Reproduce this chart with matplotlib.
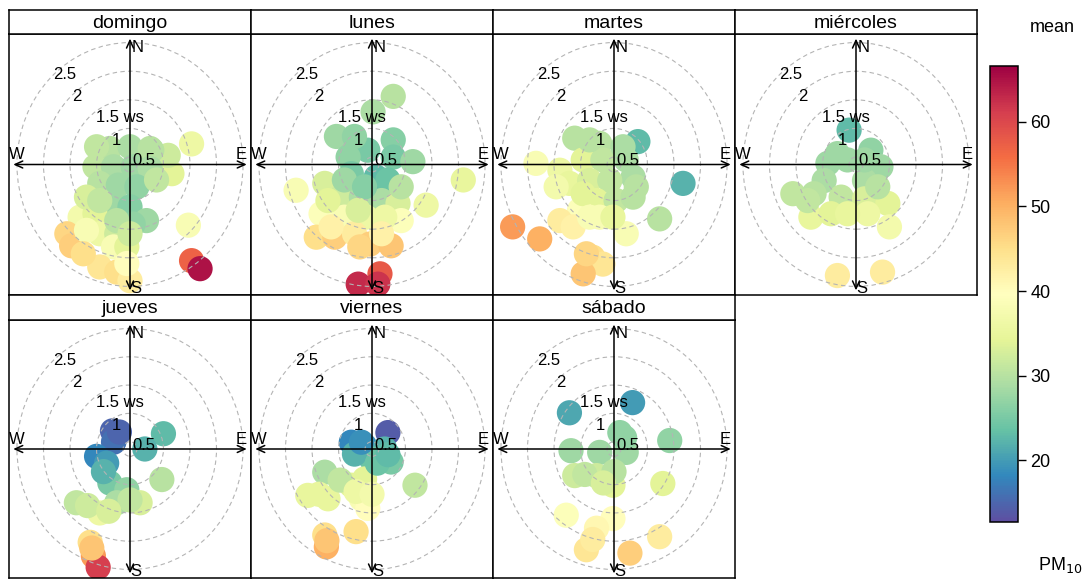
from matplotlib import pyplot as plt
from matplotlib.patches import Circle
import matplotlib as mpl

plt.rcParams['font.family'] = ['Liberation Sans', 'DejaVu Sans']

days = ["domingo", "lunes", "martes", "miércoles", "jueves", "viernes", "sábado"]

# Blob centres in plotted polar coordinates (u east, v north) and mean PM10
domingo_u = [1.16, 0.79, 0.72, 0.41, -0.38, 0.00, 0.38, -0.66, -0.31, 0.06, 0.38,
             -0.57, -0.22, 0.13, -0.31, 0.00, 0.31, 0.06, -0.94, -0.66, -0.57, -0.25,
             -0.31, -0.06, -1.19, -1.10, -0.57, -0.25, 0.00, 1.10, 1.16, 1.32,
             -0.63, 0.50, -0.82, -0.57, -0.25, -0.82, 0.00, -0.88, -0.06]
domingo_v = [0.36, -0.16, 0.16, 0.25, 0.28, 0.31, 0.28, -0.04, -0.04, -0.04, -0.07,
             -0.33, -0.36, -0.39, -0.68, -0.74, -0.98, -1.04, -0.92, -0.86, -1.21, -1.21,
             -1.44, -1.44, -1.21, -1.42, -1.79, -1.88, -2.03, -1.06, -1.68, -1.82,
             0.31, -0.27, -0.57, -0.63, -0.98, -1.15, -1.21, -1.56, -1.73]
domingo_pm = [36, 34, 32, 30, 30, 29, 30, 31, 29, 28, 29,
              30, 28, 27, 28, 26, 28, 27, 37, 34, 36, 32,
              38, 34, 46, 47, 44, 45, 43, 38, 57, 65,
              31, 31, 33, 31, 30, 38, 32, 45, 40]

lunes_u = [0.40, 0.02, -0.67, 0.40, -0.08, 0.40, 0.77, -0.45, -0.39, 0.08, 0.30,
           -0.89, -1.43, 1.72, -0.58, -0.20, 0.18, 0.49, 1.02, -0.96, -0.52, -0.11,
           0.55, -1.05, -0.70, -0.33, -0.04, 0.36, 0.15, -0.26, 0.11,
           -0.33, -0.52, -0.14, -0.83, 0.24, -0.26, -0.77, 0.18, -0.23, 0.55]
lunes_v = [1.19, 0.92, 0.49, 0.43, 0.25, 0.13, 0.05, 0.13, -0.16, -0.22, -0.27,
           -0.33, -0.45, -0.27, -0.57, -0.57, -0.63, -0.68, -0.71, -0.86, -0.92, -0.92,
           -0.98, -1.27, -1.27, -1.21, -1.39, -1.42, -1.91, -2.09, -2.09,
           0.49, -0.27, -0.39, -0.63, -0.92, -0.80, -1.09, -1.21, -1.44, -0.39]
lunes_pm = [30, 29, 28, 26, 25, 25, 28, 27, 25, 23, 24,
            33, 38, 35, 32, 29, 29, 33, 36, 39, 38, 36,
            39, 45, 47, 43, 47, 48, 58, 63, 62,
            27, 28, 26, 34, 36, 33, 42, 42, 46, 30]

martes_u = [0.45, -0.74, -0.27, -1.47, -1.02, -0.58, -0.21, 0.23, 0.36, -0.84, -0.46,
            -0.08, 1.30, -0.33, 0.04, 0.36, 0.86, -0.65, -1.02, -0.77, -0.27, 0.23,
            -1.91, -1.40, -0.40, -0.21, -0.58,
            -0.46, 0.17, -1.09, -0.58, 0.42, -0.46, -0.02, -0.52]
martes_v = [0.40, 0.46, 0.37, 0.02, -0.10, 0.08, 0.08, 0.08, -0.22, -0.33, -0.28,
            -0.28, -0.33, -0.63, -0.63, -0.57, -0.95, -0.80, -0.98, -1.09, -0.92, -1.21,
            -1.09, -1.30, -1.62, -1.74, -1.91,
            0.43, 0.31, -0.39, -0.51, -0.39, -0.92, -0.92, -1.56]
martes_pm = [23, 30, 30, 38, 36, 34, 31, 29, 29, 35, 33,
             31, 22, 34, 31, 30, 30, 39, 43, 42, 38, 38,
             52, 50, 45, 44, 48,
             30, 29, 37, 34, 30, 38, 35, 46]

miercoles_u = [-0.13, 0.28, -0.53, -0.16, 0.47, -0.60, 0.16, -1.19, -0.79, -0.28, 0.16,
               0.60, -0.85, -0.47, 0.22, 0.63, -0.35, 0.50,
               -0.35, 0.16, 0.41, -0.16, -0.91]
miercoles_v = [0.60, 0.25, 0.02, 0.08, -0.04, -0.28, -0.28, -0.51, -0.51, -0.57, -0.60,
               -0.68, -0.92, -0.86, -0.86, -1.09, -1.94, -1.88,
               0.19, 0.08, -0.39, -0.86, -0.63]
miercoles_pm = [23, 27, 28, 28, 28, 29, 29, 31, 30, 31, 33,
                34, 35, 34, 36, 37, 43, 43,
                28, 28, 30, 35, 31]

jueves_u = [-0.33, -0.30, -0.31, 0.63, 0.28, -0.63, -0.44, 0.60, -0.38, -0.06, 0.19,
            -1.01, -0.57, -0.25, -0.75, -0.69, -0.60,
            -0.20, -0.50, 0.00, -0.80, -0.40, -0.72]
jueves_v = [0.32, 0.14, 0.12, 0.27, 0.00, -0.13, -0.25, -0.54, -0.60, -0.72, -0.95,
            -0.95, -1.13, -0.95, -1.65, -1.89, -2.09,
            0.30, -0.40, -0.90, -1.00, -1.10, -1.75]
jueves_pm = [15, 16, 16, 23, 22, 18, 20, 30, 25, 27, 33,
             31, 36, 29, 45, 52, 61,
             15, 22, 31, 32, 33, 48]

viernes_u = [0.30, -0.39, -0.14, 0.24, 0.36, -0.01, -0.33, -0.89, 0.81, -1.21, -0.83,
             -0.39, -0.14, -0.20, -0.08, -0.89, -0.86, -0.30,
             -0.20, 0.10, 0.30, -0.60, -1.00, -0.30, 0.00, -0.85]
viernes_v = [0.29, 0.12, 0.06, 0.00, -0.23, -0.18, -0.09, -0.41, -0.64, -0.82, -0.88,
             -0.64, -0.53, -0.88, -1.05, -1.52, -1.73, -1.46,
             0.12, -0.25, -0.10, -0.55, -0.80, -0.75, -0.80, -1.62]
viernes_pm = [14, 18, 19, 22, 25, 24, 22, 29, 31, 35, 35,
              34, 34, 38, 40, 45, 50, 45,
              19, 24, 23, 31, 35, 36, 37, 48]

sabado_u = [-0.84, 0.35, 0.11, 1.05, -0.81, -0.27, 0.23, -0.74, -0.33, -0.02, 0.92,
            -0.90, -0.02, -0.33, 0.86, -0.52, 0.30,
            0.20, 0.00, -0.55, -0.20, -0.40]
sabado_v = [0.64, 0.82, 0.29, 0.15, -0.03, -0.06, -0.06, -0.47, -0.47, -0.64, -0.61,
            -1.17, -1.23, -1.40, -1.55, -1.78, -1.84,
            0.20, -0.40, -0.45, -0.60, -1.60]
sabado_pm = [21, 20, 27, 27, 28, 28, 28, 32, 32, 34, 34,
             39, 40, 41, 43, 44, 47,
             27, 30, 31, 33, 43]

panel_u = [domingo_u, lunes_u, martes_u, miercoles_u, jueves_u, viernes_u, sabado_u]
panel_v = [domingo_v, lunes_v, martes_v, miercoles_v, jueves_v, viernes_v, sabado_v]
panel_pm = [domingo_pm, lunes_pm, martes_pm, miercoles_pm, jueves_pm, viernes_pm, sabado_pm]

ws_rings = [0.5, 1.0, 1.5, 2.0, 2.5]
ws_min = 0.37          # wind speed at the centre of the plot
pm_min, pm_max = 12.7, 66.6
cbar_ticks = [20, 30, 40, 50, 60]


def draw_panel(ax, u, v, pm, norm, cmap):
    lim = 2.28
    ax.set_xlim(-lim, lim)
    ax.set_ylim(-lim, lim)
    ax.set_xticks([])
    ax.set_yticks([])
    for s in ax.spines.values():
        s.set_linewidth(1.1)

    ax.scatter(u, v, c=pm, cmap=cmap, norm=norm, s=330, marker='o',
               edgecolors='none', zorder=1)

    # dashed wind speed rings
    for ws in ws_rings:
        ax.add_patch(Circle((0, 0), ws - ws_min, fill=False, ls=(0, (4, 3)),
                            lw=0.8, color='#b4b4b4', zorder=2))

    # compass axes with open arrow heads at each end
    ext = 2.2
    for tip in [(0, ext), (0, -ext), (ext, 0), (-ext, 0)]:
        ax.annotate('', xy=tip, xytext=(0, 0),
                    arrowprops=dict(arrowstyle='->,head_length=0.55,head_width=0.25',
                                    lw=1.1, color='black', shrinkA=0, shrinkB=0),
                    zorder=3)

    ax.text(0.14, 2.05, 'N', fontsize=12, ha='center', va='center', zorder=4)
    ax.text(0.10, -2.16, 'S', fontsize=12, ha='center', va='center', zorder=4)
    ax.text(-2.14, 0.17, 'W', fontsize=12, ha='center', va='center', zorder=4)
    ax.text(2.10, 0.17, 'E', fontsize=12, ha='center', va='center', zorder=4)

    # ring labels
    ax.text(-1.23, 1.57, '2.5', fontsize=12, ha='center', va='center', zorder=4)
    ax.text(-1.01, 1.18, '2', fontsize=12, ha='center', va='center', zorder=4)
    ax.text(-0.19, 0.82, '1.5 ws', fontsize=12, ha='center', va='center', zorder=4)
    ax.text(-0.25, 0.42, '1', fontsize=12, ha='center', va='center', zorder=4)
    ax.text(0.27, 0.07, '0.5', fontsize=12, ha='center', va='center', zorder=4)


def main():
    W, H = 1091, 581
    fig = plt.figure(figsize=(W / 100, H / 100), dpi=100)
    cmap = plt.get_cmap('Spectral_r')
    norm = mpl.colors.Normalize(vmin=pm_min, vmax=pm_max)

    col_left = [9, 251, 493, 735]
    col_w = 242
    # (strip top, panel top, panel bottom) in pixels
    rows = [(10, 34, 295), (295, 320, 578)]

    for i, day in enumerate(days):
        r, c = divmod(i, 4)
        st, pt, pb = rows[r]
        x0 = col_left[c] / W
        ax = fig.add_axes([x0, (H - pb) / H, col_w / W, (pb - pt) / H])
        draw_panel(ax, panel_u[i], panel_v[i], panel_pm[i], norm, cmap)

        sax = fig.add_axes([x0, (H - pt) / H, col_w / W, (pt - st) / H])
        sax.set_xticks([])
        sax.set_yticks([])
        for s in sax.spines.values():
            s.set_linewidth(1.1)
        sax.text(0.5, 0.45, day, fontsize=14, ha='center', va='center',
                 transform=sax.transAxes)

    # colour key
    cax = fig.add_axes([990 / W, (H - 522) / H, 28 / W, 456 / H])
    sm = mpl.cm.ScalarMappable(norm=norm, cmap=cmap)
    cb = fig.colorbar(sm, cax=cax, ticks=cbar_ticks)
    cb.outline.set_linewidth(1.1)
    cax.tick_params(length=6, width=1.0, labelsize=13, pad=3)
    fig.text(1052 / W, 1 - 28 / H, 'mean', fontsize=13, ha='center', va='center')
    fig.text(1060 / W, 1 - 565 / H, r'PM$_{10}$', fontsize=13, ha='center', va='center')

    fig.savefig('out.png', dpi=100)


if __name__ == "__main__":
    main()
